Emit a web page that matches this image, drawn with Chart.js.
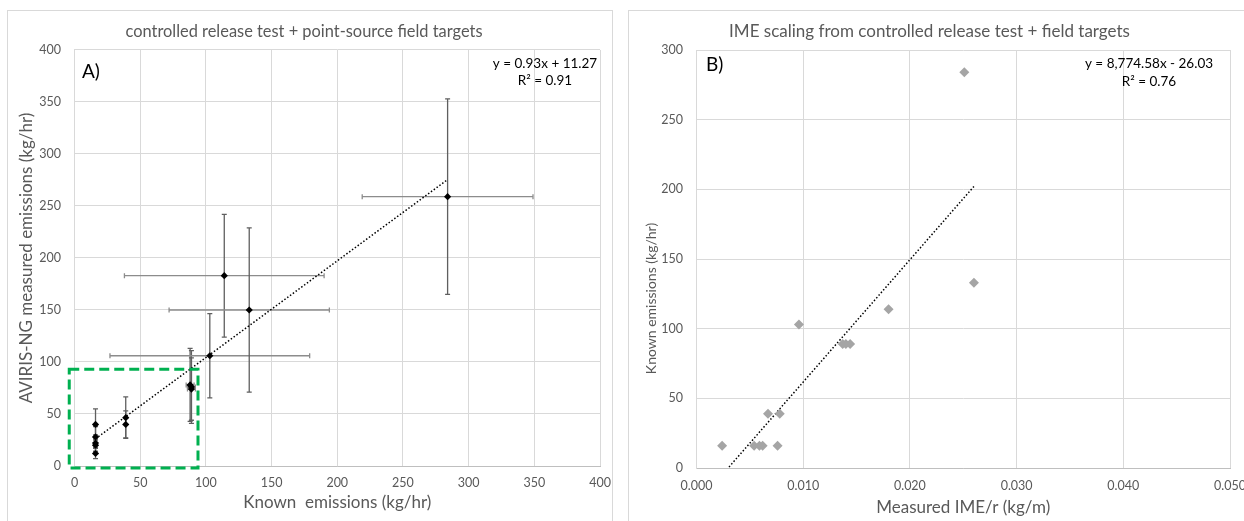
<!DOCTYPE html>
<html><head><meta charset="utf-8">
<script src="https://cdn.jsdelivr.net/npm/chart.js@4/dist/chart.umd.min.js"></script>
<style>
html,body{margin:0;padding:0;background:#fff;width:1244px;height:521px;overflow:hidden;position:relative;font-family:Lato,sans-serif}
.panel{position:absolute;border:1px solid #d9d9d9;box-sizing:border-box;}
canvas{position:absolute;}
</style></head><body>
<div class="panel" style="left:7px;top:10px;width:606px;height:530px"></div>
<div class="panel" style="left:628px;top:10px;width:640px;height:530px"></div>
<canvas id="c1" width="605" height="510" style="left:8px;top:11px"></canvas>
<canvas id="c2" width="615" height="510" style="left:629px;top:11px"></canvas>
<script>
// ---------- Panel A data ----------
const knownEmissions    = [16, 16, 16, 16, 16, 39, 39, 88, 89, 89, 103, 114, 133, 284];
const measuredEmissions = [40, 28, 22, 20, 12, 46.5, 40, 78, 76, 74, 106, 183, 150, 259];
const measuredErr       = [15, 10, 8, 6, 5, 20, 13, 35, 35, 30, 40.5, 59, 79, 94];
const knownErr          = [0, 0, 0, 0, 0, 0, 0, 3, 3, 3, 76, 76, 61, 65];
const fitA = [0.93, 11.27];            // slope, intercept
const zoomBoxX = [-4, 94];             // dashed box, data units
const zoomBoxY = [-2, 93];
const axisAX = [0, 400, 50];
const axisAY = [0, 400, 50];

// ---------- Panel B data ----------
const imePerR     = [0.0024, 0.0054, 0.0059, 0.0062, 0.0076, 0.0067, 0.0078, 0.0096, 0.0137, 0.0140, 0.0144, 0.0180, 0.0251, 0.0260];
const knownForIme = [16, 16, 16, 16, 16, 39, 39, 103, 89, 89, 89, 114, 284, 133];
const fitB = [8774.58, -26.03];
const axisBX = [0, 0.05, 0.01];
const axisBY = [0, 300, 50];

const FONT = "Lato, 'Open Sans', sans-serif";
const GRID = '#d9d9d9';
const TXT = '#595959';

const errorBars = {
  id: 'errorBars',
  beforeDatasetsDraw(chart, args, opts) {
    if (!opts || !opts.x) return;
    const {ctx, scales: {x, y}} = chart;
    const cap = 2.5;
    ctx.save();
    ctx.lineWidth = 1.3;
    for (let i = 0; i < opts.x.length; i++) {
      const px = x.getPixelForValue(opts.x[i]);
      const py = y.getPixelForValue(opts.y[i]);
      if (opts.xe[i] > 0) {
        const l = x.getPixelForValue(opts.x[i] - opts.xe[i]);
        const r = x.getPixelForValue(opts.x[i] + opts.xe[i]);
        ctx.strokeStyle = '#8c8c8c';
        ctx.beginPath();
        ctx.moveTo(l, py); ctx.lineTo(r, py);
        ctx.moveTo(l, py - cap); ctx.lineTo(l, py + cap);
        ctx.moveTo(r, py - cap); ctx.lineTo(r, py + cap);
        ctx.stroke();
      }
      if (opts.ye[i] > 0) {
        const t = y.getPixelForValue(opts.y[i] + opts.ye[i]);
        const b = y.getPixelForValue(opts.y[i] - opts.ye[i]);
        ctx.strokeStyle = '#5f5f5f';
        ctx.beginPath();
        ctx.moveTo(px, t); ctx.lineTo(px, b);
        ctx.moveTo(px - cap, t); ctx.lineTo(px + cap, t);
        ctx.moveTo(px - cap, b); ctx.lineTo(px + cap, b);
        ctx.stroke();
      }
    }
    ctx.restore();
  },
  afterDatasetsDraw(chart, args, opts) {
    if (!opts || !opts.box) return;
    const {ctx, scales: {x, y}} = chart;
    const l = x.getPixelForValue(opts.box.x[0]), r = x.getPixelForValue(opts.box.x[1]);
    const t = y.getPixelForValue(opts.box.y[1]), b = y.getPixelForValue(opts.box.y[0]);
    ctx.save();
    ctx.strokeStyle = '#00b050';
    ctx.lineWidth = 3;
    ctx.setLineDash([10, 5]);
    ctx.strokeRect(l, t, r - l, b - t);
    ctx.restore();
  }
};

const notes = {
  id: 'notes',
  afterDraw(chart, args, opts) {
    if (!opts || !opts.items) return;
    const {ctx, chartArea: ca} = chart;
    ctx.save();
    for (const it of opts.items) {
      const bx = it.from === 'right' ? ca.right : ca.left;
      ctx.font = it.font;
      ctx.fillStyle = it.color || '#000';
      ctx.textAlign = it.align || 'center';
      ctx.textBaseline = 'middle';
      ctx.save();
      ctx.translate(bx + it.dx, ca.top + it.dy);
      if (it.rotate) ctx.rotate(it.rotate);
      ctx.fillText(it.text, 0, 0);
      ctx.restore();
    }
    ctx.restore();
  }
};

function lineFrom(fit, xs) {
  const lo = Math.min(...xs), hi = Math.max(...xs);
  return [{x: lo, y: fit[0] * lo + fit[1]}, {x: hi, y: fit[0] * hi + fit[1]}];
}

function noPad(s) { s.paddingLeft = 0; s.paddingRight = 0; s.paddingTop = 0; s.paddingBottom = 0; }

function axis(range, opts) {
  return Object.assign({
    type: 'linear', min: range[0], max: range[1],
    ticks: {stepSize: range[2], color: TXT, font: {family: FONT, size: 12.5}},
    grid: {color: GRID, drawTicks: false},
    border: {color: GRID}
  }, opts);
}

// ---------- Chart A ----------
new Chart(document.getElementById('c1'), {
  type: 'scatter',
  data: {
    datasets: [
      {data: lineFrom(fitA, knownEmissions), showLine: true, borderColor: '#000', borderWidth: 1.5,
       borderDash: [1.5, 2], pointRadius: 0, order: 2},
      {data: knownEmissions.map((v, i) => ({x: v, y: measuredEmissions[i]})),
       pointStyle: 'rectRot', pointRadius: 3.6, backgroundColor: '#000', borderColor: '#000', borderWidth: 0, order: 1}
    ]
  },
  options: {
    responsive: false, animation: false,
    layout: {padding: {left: 0, right: 13, top: 0, bottom: 0}},
    plugins: {
      legend: {display: false}, tooltip: {enabled: false},
      title: {display: true, text: 'controlled release test + point-source field targets', color: TXT,
              font: {family: FONT, size: 16.4, weight: 'normal'}, padding: {top: 10.4, bottom: 8.9}},
      errorBars: {x: knownEmissions, y: measuredEmissions, xe: knownErr, ye: measuredErr, box: {x: zoomBoxX, y: zoomBoxY}},
      notes: {items: [
        {text: 'A)', from: 'left', dx: 7.5, dy: 22, align: 'left', font: '19px ' + FONT},
        {text: 'y = 0.93x + 11.27', from: 'right', dx: -55, dy: 14, font: '13.5px ' + FONT},
        {text: 'R² = 0.91', from: 'right', dx: -55, dy: 31, font: '13.5px ' + FONT}
      ]}
    },
    scales: {
      x: axis(axisAX, {
        position: 'bottom',
        ticks: {stepSize: axisAX[2], color: TXT, padding: 9, font: {family: FONT, size: 12.5}},
        border: {color: '#bfbfbf'},
        title: {display: true, text: 'Known  emissions (kg/hr)', color: TXT, font: {family: FONT, size: 17}, padding: {top: 0, bottom: 7.8}},
        afterFit(s) { s.height = 55; noPad(s); }
      }),
      y: axis(axisAY, {
        position: 'left',
        ticks: {stepSize: axisAY[2], color: TXT, padding: 13.5, font: {family: FONT, size: 12.5}},
        title: {display: true, text: 'AVIRIS-NG measured emissions (kg/hr)', color: TXT, font: {family: FONT, size: 17}, padding: {top: 8.8, bottom: 0}},
        afterFit(s) { s.width = 66.5; noPad(s); }
      })
    }
  },
  plugins: [errorBars, notes]
});

// ---------- Chart B ----------
new Chart(document.getElementById('c2'), {
  type: 'scatter',
  data: {
    datasets: [
      {data: lineFrom(fitB, imePerR), showLine: true, borderColor: '#000', borderWidth: 1.5,
       borderDash: [1.5, 2], pointRadius: 0, order: 2},
      {data: imePerR.map((v, i) => ({x: v, y: knownForIme[i]})),
       pointStyle: 'rectRot', pointRadius: 5, backgroundColor: '#a5a5a5', borderColor: '#a5a5a5', borderWidth: 0, order: 1}
    ]
  },
  options: {
    responsive: false, animation: false,
    layout: {padding: {left: 0, right: 14, top: 0, bottom: 0}},
    plugins: {
      legend: {display: false}, tooltip: {enabled: false},
      title: {display: true, text: 'IME scaling from controlled release test + field targets', color: TXT,
              font: {family: FONT, size: 17, weight: 'normal'}, padding: {top: 10, bottom: 8.6}},
      notes: {items: [
        {text: 'B)', from: 'left', dx: 9.5, dy: 15, align: 'left', font: '19px ' + FONT},
        {text: 'y = 8,774.58x - 26.03', from: 'right', dx: -81, dy: 14, font: '13.5px ' + FONT},
        {text: 'R² = 0.76', from: 'right', dx: -81, dy: 32, font: '13.5px ' + FONT},
        {text: 'Known emissions (kg/hr)', from: 'left', dx: -45, dy: 248.5, rotate: -Math.PI / 2, color: TXT, font: '14px ' + FONT}
      ]}
    },
    scales: {
      x: axis(axisBX, {
        position: 'bottom',
        ticks: {stepSize: axisBX[2], color: TXT, padding: 10, font: {family: FONT, size: 12.5},
                callback: v => Number(v).toFixed(3)},
        border: {color: '#bfbfbf'},
        title: {display: true, text: 'Measured IME/r (kg/m)', color: TXT, font: {family: FONT, size: 17}, padding: {top: 0, bottom: 2.8}},
        afterFit(s) { s.height = 53; noPad(s); }
      }),
      y: axis(axisBY, {
        position: 'left',
        ticks: {stepSize: axisBY[2], color: TXT, padding: 13.5, font: {family: FONT, size: 12.5}},
        afterFit(s) { s.width = 67.5; noPad(s); }
      })
    }
  },
  plugins: [notes]
});
</script>
</body></html>
